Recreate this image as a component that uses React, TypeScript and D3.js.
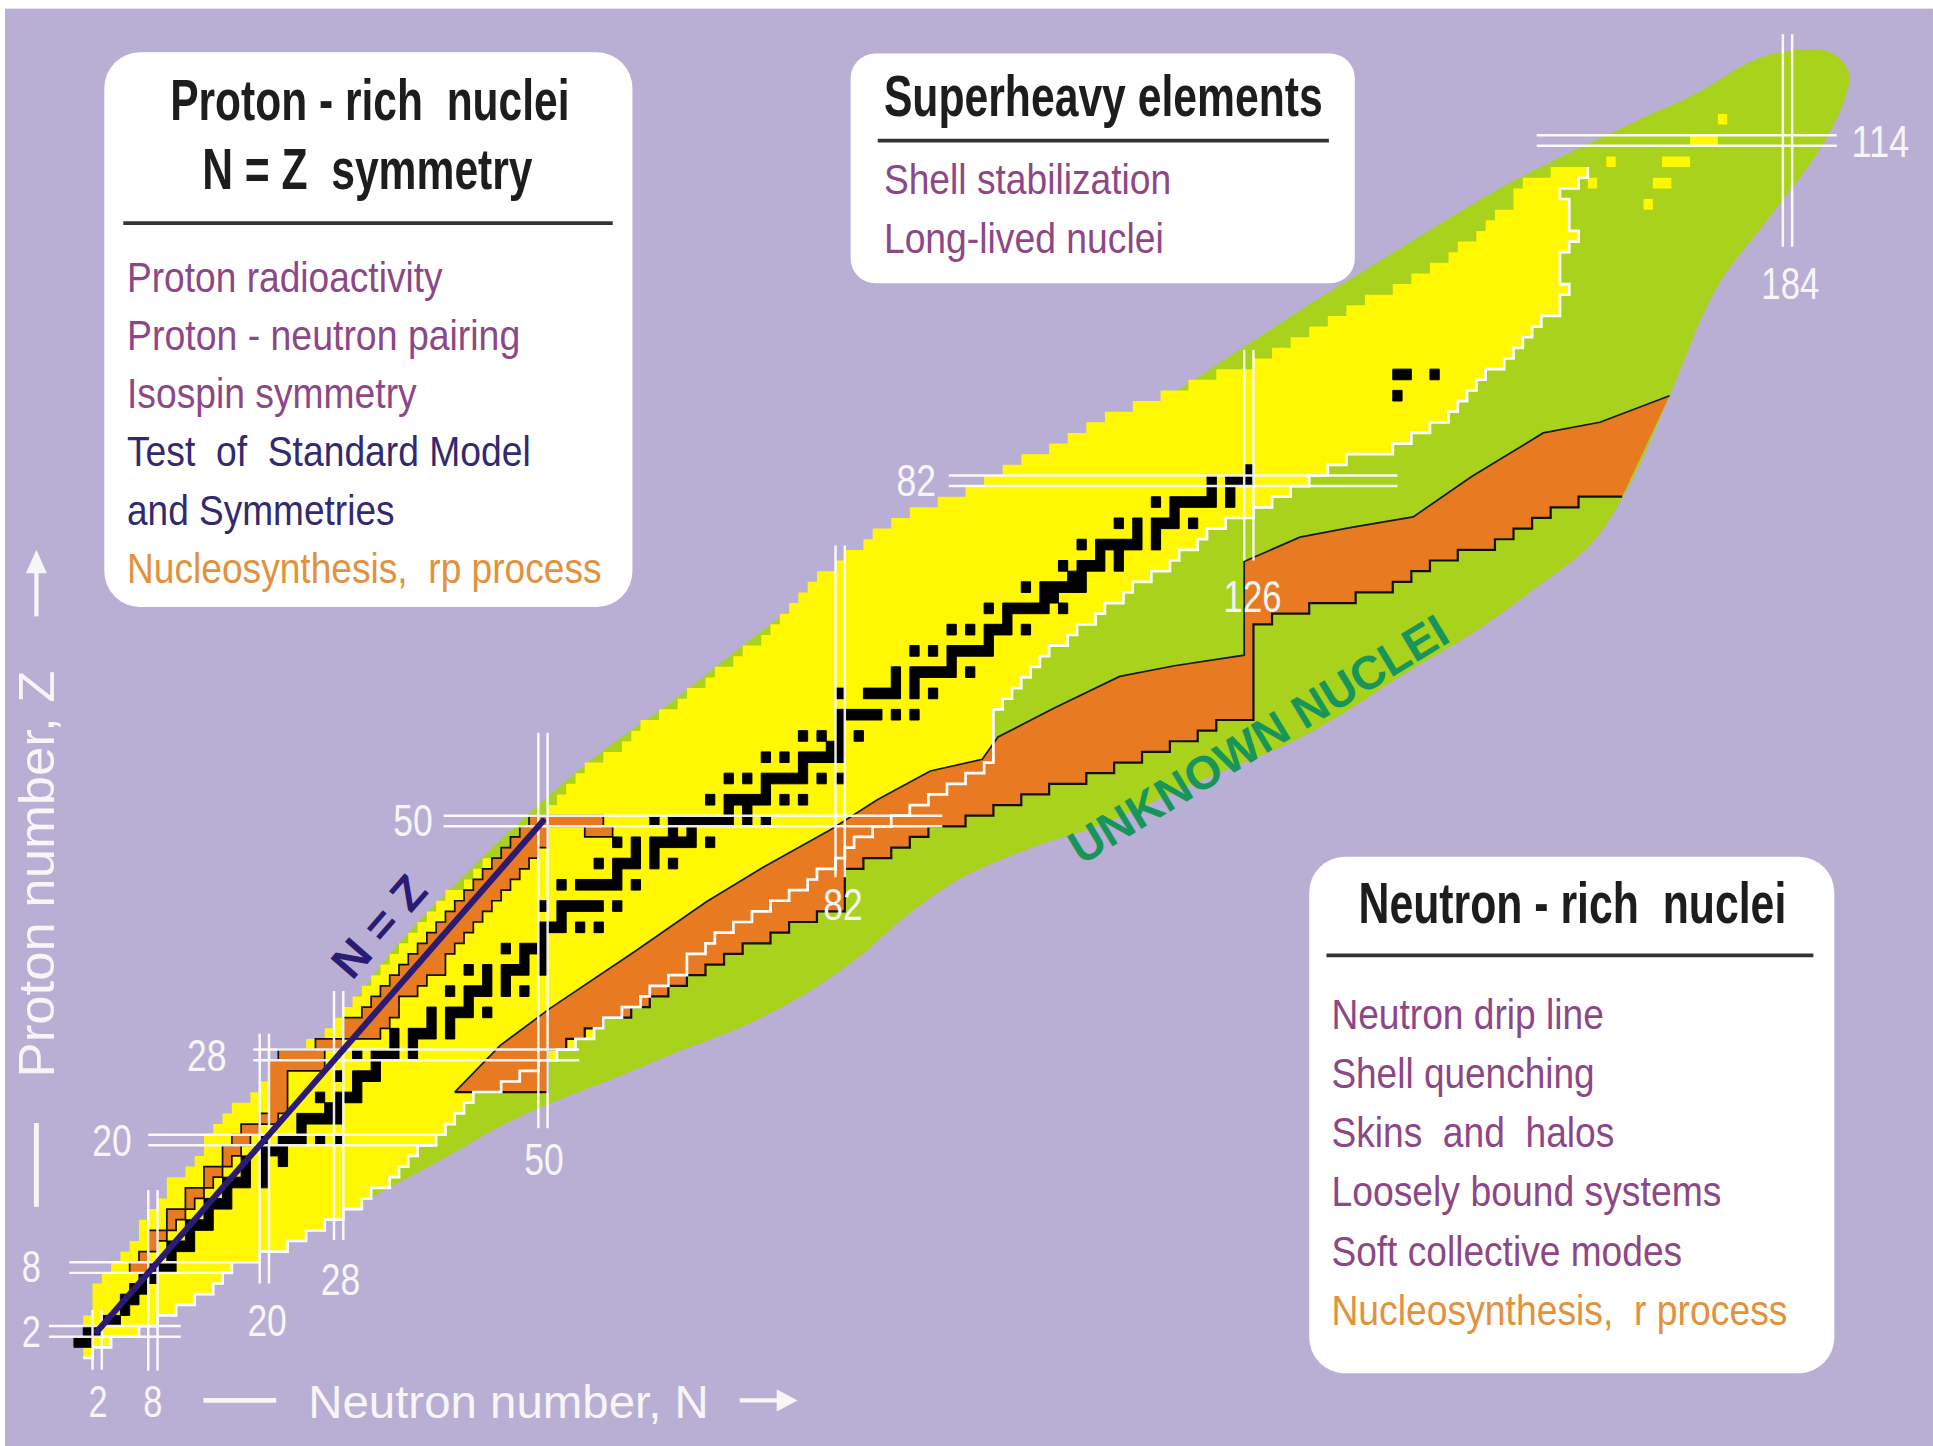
import React from 'react';
import * as d3 from 'd3';

// ---------------------------------------------------------------------------
// Chart of nuclides: known nuclei, stable nuclei, nucleosynthesis paths and
// the predicted limit of bound nuclei.  All mark data is given in (N, Z).
// ---------------------------------------------------------------------------

// Lowest neutron number of a known isotope for each element (index = Z)
const knownMinN = [
  1, 0, 1, 1, 2, 2, 2, 3, 4, 5,
  6, 7, 7, 8, 9, 10, 10, 12, 13, 14,
  14, 15, 16, 17, 19, 20, 21, 21, 22, 25,
  27, 28, 29, 30, 31, 32, 33, 34, 35, 36,
  37, 38, 39, 40, 42, 43, 44, 46, 47, 48,
  49, 51, 52, 53, 54, 55, 57, 59, 60, 61,
  63, 65, 66, 68, 69, 71, 72, 74, 75, 76,
  77, 78, 79, 80, 82, 83, 85, 86, 88, 90,
  93, 96, 98, 100, 102, 105, 107, 109, 111, 114,
  117, 120, 123, 127, 129, 131, 133, 135, 137, 139,
  142, 144, 146, 148, 149, 151, 152, 153, 155, 155,
  156, 159,
];

// Highest neutron number of a known isotope for each element (index = Z)
const knownMaxN = [
  1, 3, 6, 8, 10, 12, 14, 15, 16, 19,
  22, 24, 26, 28, 30, 31, 33, 34, 35, 36,
  38, 39, 40, 41, 42, 45, 47, 49, 51, 53,
  55, 56, 58, 60, 61, 63, 65, 65, 67, 68,
  70, 72, 74, 76, 78, 79, 81, 82, 83, 85,
  87, 89, 91, 93, 95, 97, 98, 98, 98, 98,
  98, 99, 100, 101, 102, 103, 104, 106, 107, 109,
  110, 112, 113, 115, 117, 118, 120, 121, 123, 126,
  128, 130, 132, 134, 136, 141, 143, 145, 147, 148,
  149, 150, 151, 153, 154, 155, 156, 157, 159, 159,
  160, 159, 159, 159, 160, 161, 160, 160, 160, 159,
  161, 162,
];

// Isolated superheavy nuclei observed beyond the main region, [N, Z]
const superheavyKnown: [number, number][] = [
  [163, 110], [165, 112], [169, 108], [170, 110], [171, 110],
  [171, 112], [172, 112], [173, 112], [174, 114], [175, 114], [176, 114], [177, 116],
];

// Stable (and very long-lived) nuclei: [Z, neutron numbers]
const stableNuclei: [number, number[]][] = [
  [1, [0, 1]], [2, [1, 2]], [3, [3, 4]], [4, [5]], [5, [5, 6]], [6, [6, 7]], [7, [7, 8]],
  [8, [8, 9, 10]], [9, [10]], [10, [10, 11, 12]], [11, [12]], [12, [12, 13, 14]], [13, [14]],
  [14, [14, 15, 16]], [15, [16]], [16, [16, 17, 18, 20]], [17, [18, 20]], [18, [18, 20, 22]],
  [19, [20, 21, 22]], [20, [20, 22, 23, 24, 26, 28]], [21, [24]], [22, [24, 25, 26, 27, 28]],
  [23, [27, 28]], [24, [26, 28, 29, 30]], [25, [30]], [26, [28, 30, 31, 32]], [27, [32]],
  [28, [30, 32, 33, 34, 36]], [29, [34, 36]], [30, [34, 36, 37, 38, 40]], [31, [38, 40]],
  [32, [38, 40, 41, 42, 44]], [33, [42]], [34, [40, 42, 43, 44, 46, 48]], [35, [44, 46]],
  [36, [42, 44, 46, 47, 48, 50]], [37, [48, 50]], [38, [46, 48, 49, 50]], [39, [50]],
  [40, [50, 51, 52, 54, 56]], [41, [52]], [42, [50, 52, 53, 54, 55, 56, 58]],
  [44, [52, 54, 55, 56, 57, 58, 60]], [45, [58]], [46, [56, 58, 59, 60, 62, 64]], [47, [60, 62]],
  [48, [58, 60, 62, 63, 64, 65, 66, 68]], [49, [64, 66]], [50, [62, 64, 65, 66, 67, 68, 69, 70, 72, 74]],
  [51, [70, 72]], [52, [68, 70, 71, 72, 73, 74, 76, 78]], [53, [74]],
  [54, [70, 72, 74, 75, 76, 77, 78, 80, 82]], [55, [78]], [56, [74, 76, 78, 79, 80, 81, 82]],
  [57, [81, 82]], [58, [78, 80, 82, 84]], [59, [82]], [60, [82, 83, 84, 85, 86, 88, 90]],
  [62, [82, 85, 86, 87, 88, 90, 92]], [63, [88, 90]], [64, [88, 90, 91, 92, 93, 94, 96]], [65, [94]],
  [66, [90, 92, 94, 95, 96, 97, 98]], [67, [98]], [68, [94, 96, 98, 99, 100, 102]], [69, [100]],
  [70, [98, 100, 101, 102, 103, 104, 106]], [71, [104, 105]], [72, [102, 104, 105, 106, 107, 108]],
  [73, [107, 108]], [74, [106, 108, 109, 110, 112]], [75, [110, 112]],
  [76, [108, 110, 111, 112, 113, 114, 116]], [77, [114, 116]], [78, [112, 114, 116, 117, 118, 120]],
  [79, [118]], [80, [116, 118, 119, 120, 121, 122, 124]], [81, [122, 124]], [82, [122, 124, 125, 126]],
  [83, [126]], [90, [142]], [92, [142, 143, 146]],
];

// rp-process path near N = Z: [Z, first N, last N]
const rpProcessRows: [number, number, number][] = [
  [8, 6, 7], [9, 7, 7], [10, 8, 8], [11, 8, 9], [12, 10, 10], [13, 10, 11], [14, 12, 12],
  [15, 12, 13], [16, 14, 14], [17, 14, 15], [18, 16, 16], [19, 16, 17], [20, 17, 18], [21, 18, 19],
  [22, 20, 21], [23, 21, 22], [24, 21, 22], [25, 21, 22], [26, 21, 22], [27, 21, 26], [28, 22, 26],
  [29, 26, 28], [30, 29, 32], [31, 29, 33], [32, 31, 34], [33, 32, 34], [34, 33, 36], [35, 34, 37],
  [36, 35, 39], [37, 36, 39], [38, 37, 40], [39, 38, 41], [40, 39, 42], [41, 40, 43], [42, 41, 44],
  [43, 42, 45], [44, 43, 46], [45, 44, 47], [46, 45, 48], [47, 46, 49], [48, 47, 50], [49, 48, 50],
  [49, 55, 57], [50, 49, 56],
];

// r-process band: proton-rich (upper) edge as [N, Z] ...
const rProcessUpper: [number, number][] = [
  [40.5, 24.5], [45.4, 28.9], [50.8, 32.4], [60, 37.8], [67.6, 42.4], [74, 45.8], [81, 49.2],
  [86, 52], [91.7, 54.7], [97.3, 55.8], [99, 57.9], [105, 60.6], [112.1, 63.6], [118, 64.6],
  [125.5, 65.6], [125.5, 74.4], [131.5, 76.7], [136.9, 77.6], [143.7, 78.6], [150, 82.4],
  [157.7, 86.5], [163.8, 87.5], [171.3, 90],
];
const rProcessFoot: [number, number] = [166.2, 80.5];
// ... and its neutron-rich edge as [Z, last N]
const rProcessLower: [number, number][] = [
  [25, 50], [26, 50], [27, 50], [28, 50], [29, 52], [30, 54], [31, 56], [32, 59], [33, 61],
  [34, 63], [35, 65], [36, 67], [37, 69], [38, 71], [39, 74], [40, 76], [41, 79], [42, 82],
  [43, 82], [44, 82], [45, 82], [46, 84], [47, 87], [48, 89], [49, 91], [50, 95], [51, 98],
  [52, 101], [53, 104], [54, 108], [55, 111], [56, 114], [57, 117], [58, 120], [59, 122],
  [60, 126], [61, 126], [62, 126], [63, 126], [64, 126], [65, 126], [66, 126], [67, 126],
  [68, 126], [69, 128], [70, 132], [71, 137], [72, 141], [73, 143], [74, 145], [75, 148],
  [76, 152], [77, 154], [78, 156], [79, 158], [80, 161],
];

// Predicted limit of bound nuclei, [N, Z]
const boundLimit: [number, number][] = [
  [10, 12], [20, 10.8], [27, 12.6], [33, 15.3], [40, 18.6], [45.4, 21.3], [51.8, 23.8],
  [57.7, 25.8], [64, 28.1], [71.3, 30.6], [78, 33.6], [84, 37.2], [89, 41], [95, 44.6],
  [103, 47.6], [110, 49.6], [120, 53.5], [131.5, 57.8], [137, 60.6], [143, 64], [150, 67.6],
  [157, 72], [163, 76.2], [167.5, 82.5], [171.3, 90], [176.4, 100.2], [181.8, 106.5],
  [187.2, 112.8], [190, 117.5], [190.6, 120.4], [188.6, 122.3], [184.6, 122.5], [180, 121.4],
  [174.6, 118.6], [167.4, 115.7], [160.2, 112.7], [153, 109.5], [145.9, 105.8], [138.5, 101.8],
  [133.3, 99], [125.5, 94.6], [121.5, 92.3], [113, 87.6], [104, 83.6], [95, 80], [88, 77.8],
  [79.5, 71.8], [71.2, 66.3], [64, 61.3], [56, 56.3], [49.5, 51.5], [42, 45.3], [34, 38],
  [27.5, 30.5], [18, 22], [12, 16],
];

// Magic numbers with the span of their marker lines
const magicN: [number, number, number][] = [ // [N, Z from, Z to]
  [2, -1.6, 4], [8, -1.7, 15.3], [20, 6.5, 30], [28, 10.6, 34], [50, 21.1, 58.3],
  [82, 44.7, 75.9], [126, 74.5, 94.3], [184, 104, 124],
];
const magicZ: [number, number, number][] = [ // [Z, N from, N to]
  [2, -3.2, 11], [8, -1, 16.6], [20, 7.5, 38.4], [28, 18.8, 53.9], [50, 39.3, 93],
  [82, 93.7, 142], [114, 157, 189.3],
];
// Magic-number captions, placed at [N, Z]
const magicLabels: [string, number, number][] = [
  ['2', -5.1, 2], ['8', -5.1, 8.1], ['20', 3.6, 19.9], ['28', 13.8, 27.9], ['50', 36, 50],
  ['82', 90.2, 82], ['114', 194, 113.9],
  ['2', 2.1, -4.6], ['8', 8, -4.6], ['20', 20.3, 3], ['28', 28.2, 6.9], ['50', 50.1, 18.2],
  ['82', 82.3, 42.1], ['126', 126.4, 71.1], ['184', 184.3, 100.5],
];

const protonRichHead = ['Proton - rich  nuclei', 'N = Z  symmetry'];
const protonRichTopics: [string, string][] = [
  ['Proton radioactivity', 'physics'],
  ['Proton - neutron pairing', 'physics'],
  ['Isospin symmetry', 'physics'],
  ['Test  of  Standard Model', 'symmetry'],
  ['and Symmetries', 'symmetry'],
  ['Nucleosynthesis,  rp process', 'astro'],
];
const superheavyHead = 'Superheavy elements';
const superheavyTopics: [string, string][] = [
  ['Shell stabilization', 'physics'],
  ['Long-lived nuclei', 'physics'],
];
const neutronRichHead = 'Neutron - rich  nuclei';
const neutronRichTopics: [string, string][] = [
  ['Neutron drip line', 'physics'],
  ['Shell quenching', 'physics'],
  ['Skins  and  halos', 'physics'],
  ['Loosely bound systems', 'physics'],
  ['Soft collective modes', 'physics'],
  ['Nucleosynthesis,  r process', 'astro'],
];

// ---------------------------------------------------------------------------

const BG = '#B9AFD4';
const GREEN = '#A8D21C';
const YELLOW = '#FFF800';
const ORANGE = '#E87A22';
const TOPIC_COLOR: Record<string, string> = { physics: '#8E4786', symmetry: '#33296F', astro: '#E2923E' };
const NARROW = "'Liberation Sans Narrow','Arial Narrow','Liberation Sans',Arial,sans-serif";
const SANS = "'Liberation Sans',Arial,Helvetica,sans-serif";
const LABEL = '#F6F6F6';

export default function App() {
  const xs = d3.scaleLinear().domain([8, 184]).range([124, 1450]);
  const ys = d3.scaleLinear().domain([2, 114]).range([1080, 114]);
  const cw = xs(1) - xs(0);
  const ch = ys(0) - ys(1);
  const line = d3.line<number[]>().x((d) => xs(d[0])).y((d) => ys(d[1]));
  const cellPath = (n: number, z: number) =>
    `M${xs(n - 0.5)},${ys(z + 0.5)}h${cw}v${ch}h${-cw}Z`;
  const rowPath = (n0: number, n1: number, z: number) =>
    `M${xs(n0 - 0.5)},${ys(z + 0.5)}H${xs(n1 + 0.5)}V${ys(z - 0.5)}H${xs(n0 - 0.5)}Z`;

  // predicted bound region
  const boundPath = d3
    .line<number[]>()
    .x((d) => xs(d[0]))
    .y((d) => ys(d[1]))
    .curve(d3.curveCatmullRomClosed.alpha(0.5))(boundLimit) as string;

  // known nuclei as a stepped polygon
  const zIdx = d3.range(knownMinN.length);
  const knownPoly = [
    ...zIdx.flatMap((z) => [[knownMinN[z] - 0.5, z - 0.5], [knownMinN[z] - 0.5, z + 0.5]]),
    ...zIdx.slice().reverse().flatMap((z) => [[knownMaxN[z] + 0.5, z + 0.5], [knownMaxN[z] + 0.5, z - 0.5]]),
  ];
  const knownPath = line(knownPoly) + 'Z' + superheavyKnown.map(([n, z]) => cellPath(n, z)).join('');
  const knownEdge = line([
    [knownMinN[0] - 0.5, -0.5],
    ...zIdx.flatMap((z) => [[knownMaxN[z] + 0.5, z - 0.5], [knownMaxN[z] + 0.5, z + 0.5]]),
  ]) as string;

  // r-process band
  const stair = rProcessLower
    .slice()
    .sort((a, b) => b[0] - a[0])
    .flatMap(([z, m]) => [[m + 0.5, z + 0.5], [m + 0.5, z - 0.5]]);
  const rBandPath = line([...rProcessUpper, rProcessFoot, ...stair]) + 'Z';
  const rUpperPath = line(rProcessUpper) as string;
  const rLowerPath = line([rProcessFoot, ...stair, rProcessUpper[0]]) as string;

  // rp-process cells and their outline
  const rpSet = new Set<string>();
  rpProcessRows.forEach(([z, a, b]) => {
    for (let n = a; n <= b; n++) rpSet.add(n + ',' + z);
  });
  const has = (n: number, z: number) => rpSet.has(n + ',' + z);
  const rpFill = rpProcessRows.map(([z, a, b]) => rowPath(a, b, z)).join('');
  let rpEdges = '';
  rpSet.forEach((k) => {
    const [n, z] = k.split(',').map(Number);
    if (!has(n + 1, z)) rpEdges += `M${xs(n + 0.5)},${ys(z - 0.5)}V${ys(z + 0.5)}`;
    if (!has(n - 1, z)) rpEdges += `M${xs(n - 0.5)},${ys(z - 0.5)}V${ys(z + 0.5)}`;
    if (!has(n, z + 1)) rpEdges += `M${xs(n - 0.5)},${ys(z + 0.5)}H${xs(n + 0.5)}`;
    if (!has(n, z - 1)) rpEdges += `M${xs(n - 0.5)},${ys(z - 0.5)}H${xs(n + 0.5)}`;
  });

  // stable nuclei
  const stablePath = stableNuclei.flatMap(([z, ns]) => ns.map((n) => cellPath(n, z))).join('');

  // magic-number double lines
  const magicPath =
    magicN
      .map(([n, z0, z1]) =>
        [n - 0.5, n + 0.5].map((v) => `M${xs(v)},${ys(z0)}V${ys(z1)}`).join(''))
      .join('') +
    magicZ
      .map(([z, n0, n1]) =>
        [z - 0.5, z + 0.5].map((v) => `M${xs(n0)},${ys(v)}H${xs(n1)}`).join(''))
      .join('');

  const labelWidth = (t: string) => (t.length === 1 ? 15.5 : t.length === 2 ? 32 : 47);

  // N = Z guide
  const nzA = [xs(2), ys(2)];
  const nzB = [xs(50), ys(50)];
  const nzAngle = (Math.atan2(nzB[1] - nzA[1], nzB[0] - nzA[0]) * 180) / Math.PI;

  const topicWidthsLeft = [256, 319, 235, 327.5, 217, 385];
  const topicWidthsTop = [233, 227];
  const topicWidthsRight = [221, 213.5, 229.5, 316.4, 284.5, 370];

  return (
    <svg
      width={1933}
      height={1446}
      viewBox="0 0 1568 1173"
      style={{ position: 'absolute', left: 0, top: 0, background: '#ffffff' }}
    >
      <rect x={4} y={7} width={1564} height={1166} fill={BG} />

      {/* predicted bound nuclei */}
      <path d={boundPath} fill={GREEN} />

      {/* known nuclei */}
      <path d={knownPath} fill={YELLOW} />

      {/* r-process path */}
      <path d={rBandPath} fill={ORANGE} />
      <path d={rUpperPath} fill="none" stroke="#1a1a1a" strokeWidth={1.4} />
      <path d={rLowerPath} fill="none" stroke="#111" strokeWidth={1.8} strokeLinejoin="miter" />

      {/* boundary of known nuclei on the neutron-rich side */}
      <path d={knownEdge} fill="none" stroke="#ffffff" strokeWidth={2.2} />

      {/* rp-process path */}
      <path d={rpFill} fill={ORANGE} />
      <path d={rpEdges} fill="none" stroke="#111" strokeWidth={1.4} strokeLinecap="square" />

      {/* stable nuclei */}
      <path d={stablePath} fill="#000" stroke="#000" strokeWidth={0.8} />

      {/* magic numbers */}
      <path d={magicPath} fill="none" stroke="#ffffff" strokeOpacity={0.92} strokeWidth={2} />

      {/* N = Z line */}
      <line x1={nzA[0]} y1={nzA[1]} x2={nzB[0]} y2={nzB[1]} stroke="#2C1B74" strokeWidth={5} strokeLinecap="round" />
      <text
        transform={`translate(317,760) rotate(${nzAngle})`}
        textAnchor="middle"
        fontFamily={SANS}
        fontWeight="bold"
        fontSize={37}
        fill="#2C1B74"
        textLength={96}
        lengthAdjust="spacingAndGlyphs"
        style={{ whiteSpace: 'pre' }}
      >
        N = Z
      </text>

      {/* magic-number captions */}
      {magicLabels.map(([t, n, z], i) => (
        <text
          key={'ml' + i}
          x={xs(n)}
          y={ys(z) + 12.5}
          textAnchor="middle"
          fontFamily={SANS}
          fontSize={36}
          fill={LABEL}
          textLength={labelWidth(t)}
          lengthAdjust="spacingAndGlyphs"
        >
          {t}
        </text>
      ))}

      {/* unknown nuclei caption */}
      <text
        transform="translate(877,702) rotate(-31.2)"
        fontFamily={SANS}
        fontWeight="bold"
        fontSize={38}
        fill="#17955A"
        textLength={352}
        lengthAdjust="spacingAndGlyphs"
      >
        UNKNOWN NUCLEI
      </text>

      {/* axis titles */}
      <text x={250} y={1150} fontFamily={SANS} fontSize={38} fill={LABEL} textLength={325} lengthAdjust="spacingAndGlyphs">
        Neutron number, N
      </text>
      <line x1={165} y1={1136} x2={224} y2={1136} stroke={LABEL} strokeWidth={4} />
      <line x1={600} y1={1136} x2={634} y2={1136} stroke={LABEL} strokeWidth={3.5} />
      <path d="M630,1127 L647,1136 L630,1145 Z" fill={LABEL} />

      <text
        transform="translate(44,874) rotate(-90)"
        fontFamily={SANS}
        fontSize={40}
        fill={LABEL}
        textLength={330}
        lengthAdjust="spacingAndGlyphs"
      >
        Proton number, Z
      </text>
      <line x1={29.5} y1={911} x2={29.5} y2={979} stroke={LABEL} strokeWidth={4} />
      <line x1={29.5} y1={500} x2={29.5} y2={462} stroke={LABEL} strokeWidth={3.5} />
      <path d="M21,465 L29.5,446 L38,465 Z" fill={LABEL} />

      {/* proton-rich box */}
      <rect x={84.6} y={42.4} width={428.4} height={450} rx={29} fill="#ffffff" />
      {protonRichHead.map((t, i) => (
        <text
          key={'ph' + i}
          x={i === 0 ? 138 : 164}
          y={i === 0 ? 97 : 153}
          fontFamily={NARROW}
          fontWeight="bold"
          fontSize={46}
          fill="#1d1d1d"
          textLength={i === 0 ? 324 : 268}
          lengthAdjust="spacingAndGlyphs"
          style={{ whiteSpace: 'pre' }}
        >
          {t}
        </text>
      ))}
      <line x1={100} y1={181} x2={497} y2={181} stroke="#333" strokeWidth={3} />
      {protonRichTopics.map(([t, kind], i) => (
        <text
          key={'pt' + i}
          x={103}
          y={236.5 + i * 47.3}
          fontFamily={NARROW}
          fontSize={35}
          fill={TOPIC_COLOR[kind]}
          textLength={topicWidthsLeft[i]}
          lengthAdjust="spacingAndGlyphs"
          style={{ whiteSpace: 'pre' }}
        >
          {t}
        </text>
      ))}

      {/* superheavy box */}
      <rect x={690} y={43.5} width={409} height={186.2} rx={20} fill="#ffffff" />
      <text
        x={717}
        y={94}
        fontFamily={NARROW}
        fontWeight="bold"
        fontSize={46}
        fill="#1d1d1d"
        textLength={356}
        lengthAdjust="spacingAndGlyphs"
      >
        {superheavyHead}
      </text>
      <line x1={712} y1={114} x2={1078} y2={114} stroke="#333" strokeWidth={3} />
      {superheavyTopics.map(([t, kind], i) => (
        <text
          key={'st' + i}
          x={717}
          y={157.6 + i * 47.4}
          fontFamily={NARROW}
          fontSize={35}
          fill={TOPIC_COLOR[kind]}
          textLength={topicWidthsTop[i]}
          lengthAdjust="spacingAndGlyphs"
        >
          {t}
        </text>
      ))}

      {/* neutron-rich box */}
      <rect x={1062} y={695} width={426} height={419} rx={29} fill="#ffffff" />
      <text
        x={1102}
        y={749}
        fontFamily={NARROW}
        fontWeight="bold"
        fontSize={46}
        fill="#1d1d1d"
        textLength={347}
        lengthAdjust="spacingAndGlyphs"
        style={{ whiteSpace: 'pre' }}
      >
        {neutronRichHead}
      </text>
      <line x1={1076} y1={775} x2={1471} y2={775} stroke="#333" strokeWidth={3} />
      {neutronRichTopics.map(([t, kind], i) => (
        <text
          key={'nt' + i}
          x={1080}
          y={834.4 + i * 48.1}
          fontFamily={NARROW}
          fontSize={35}
          fill={TOPIC_COLOR[kind]}
          textLength={topicWidthsRight[i]}
          lengthAdjust="spacingAndGlyphs"
          style={{ whiteSpace: 'pre' }}
        >
          {t}
        </text>
      ))}
    </svg>
  );
}
